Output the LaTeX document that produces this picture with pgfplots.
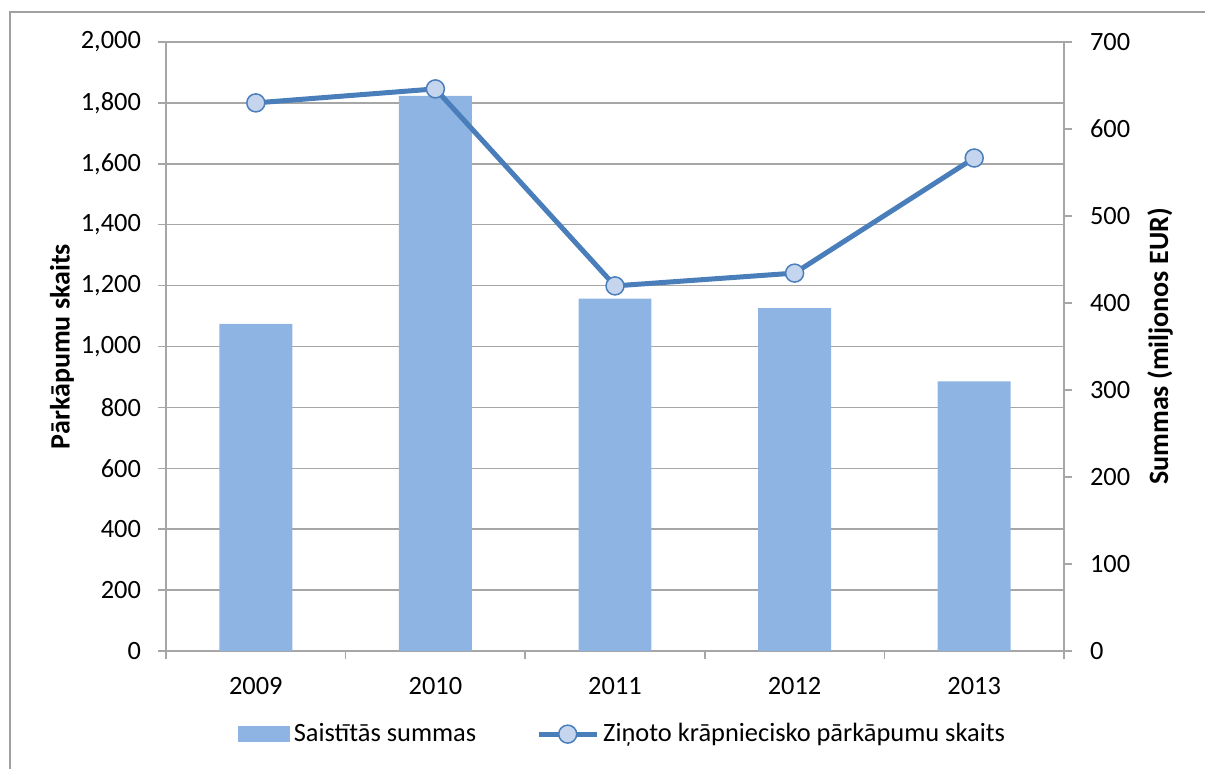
\documentclass[border=0pt]{standalone}
\usepackage{pgfplots}
\pgfplotsset{compat=1.18}
\usepackage{fontspec}
\setmainfont{Carlito}
\definecolor{barc}{HTML}{8EB4E3}
\definecolor{linec}{HTML}{4A7EBB}
\definecolor{gridc}{HTML}{A6A6A6}
\definecolor{framec}{HTML}{A0A0A0}
\definecolor{markc}{HTML}{C5D5EE}
\pgfplotsset{
  mylineleg/.style={legend image code/.code={\draw[mark repeat=2,mark phase=2,##1] plot coordinates {(0pt,0pt) (14.5pt,0pt) (29pt,0pt)};}},
  mybarleg/.style={legend image code/.code={\fill[barc] (0pt,-3.75pt) rectangle (25.5pt,3.75pt);}},
  base/.style={
    scale only axis, width=449pt, height=304.5pt,
    at={(83pt,59pt)}, anchor=south west,
    xmin=-0.5, xmax=4.5,
    font=\fontsize{13.2}{15.5}\selectfont,
    /pgf/number format/.cd, 1000 sep={,}, assume math mode=true, /pgfplots/.cd,
    tick align=outside, major tick length=4pt,
    axis line style={gridc, line width=0.75pt},
    tick style={gridc, line width=0.75pt},
  }
}
\begin{document}
\begin{tikzpicture}[x=0.5pt,y=0.5pt]
\useasboundingbox (0,0) rectangle (1205,769);
\draw[framec, line width=0.75pt] (10,-5) -- (10,757) -- (1215,757);
% left axis with grid and x axis
\begin{axis}[base,
  ymin=0, ymax=2000, ytick={0,200,...,2000},
  ymajorgrids, grid style={gridc, line width=0.75pt},
  axis x line*=bottom, axis y line*=left,
  xtick={-0.5,0.5,...,4.5}, x tick label as interval,
  xticklabels={2009,2010,2011,2012,2013},
  yticklabel style={xshift=-5pt},
  xticklabel style={yshift=-5.5pt},
  ylabel={\fontsize{14}{16}\selectfont\bfseries Pārkāpumu skaits},
  ylabel style={at={(axis description cs:-0.1158,0.5)}, anchor=center},
]
\end{axis}
% right axis with bars
\begin{axis}[base,
  ymin=0, ymax=700, ytick={0,100,...,700},
  axis y line*=right, axis x line=none,
  yticklabel style={xshift=5.5pt},
  ylabel={\fontsize{14}{16}\selectfont\bfseries Summas (miljonos EUR)},
  ylabel style={at={(axis description cs:1.107,0.5)}, anchor=center},
]
\addplot[ybar, bar width=0.406, fill=barc, draw=none] coordinates {(0,376) (1,638) (2,405) (3,394) (4,310)};
\end{axis}
% line
\begin{axis}[base,
  ymin=0, ymax=2000, hide axis,
  legend columns=2,
  legend cell align=left,
  legend style={at={(axis description cs:0.5095,-0.1365)}, anchor=center, draw=none, fill=none,
    font=\fontsize{13.2}{15.5}\selectfont,
    /tikz/every even column/.append style={column sep=28pt}},
]
\addlegendimage{mybarleg}
\addlegendentry{Saistītās summas}
\addplot[linec, line width=2.5pt, mark=*, mark size=4.5pt,
  mark options={draw=linec, fill=markc, line width=0.75pt}, mylineleg]
  coordinates {(0,1800) (1,1846) (2,1199) (3,1241) (4,1619)};
\addlegendentry{Ziņoto krāpniecisko pārkāpumu skaits}
\end{axis}
\end{tikzpicture}
\end{document}
